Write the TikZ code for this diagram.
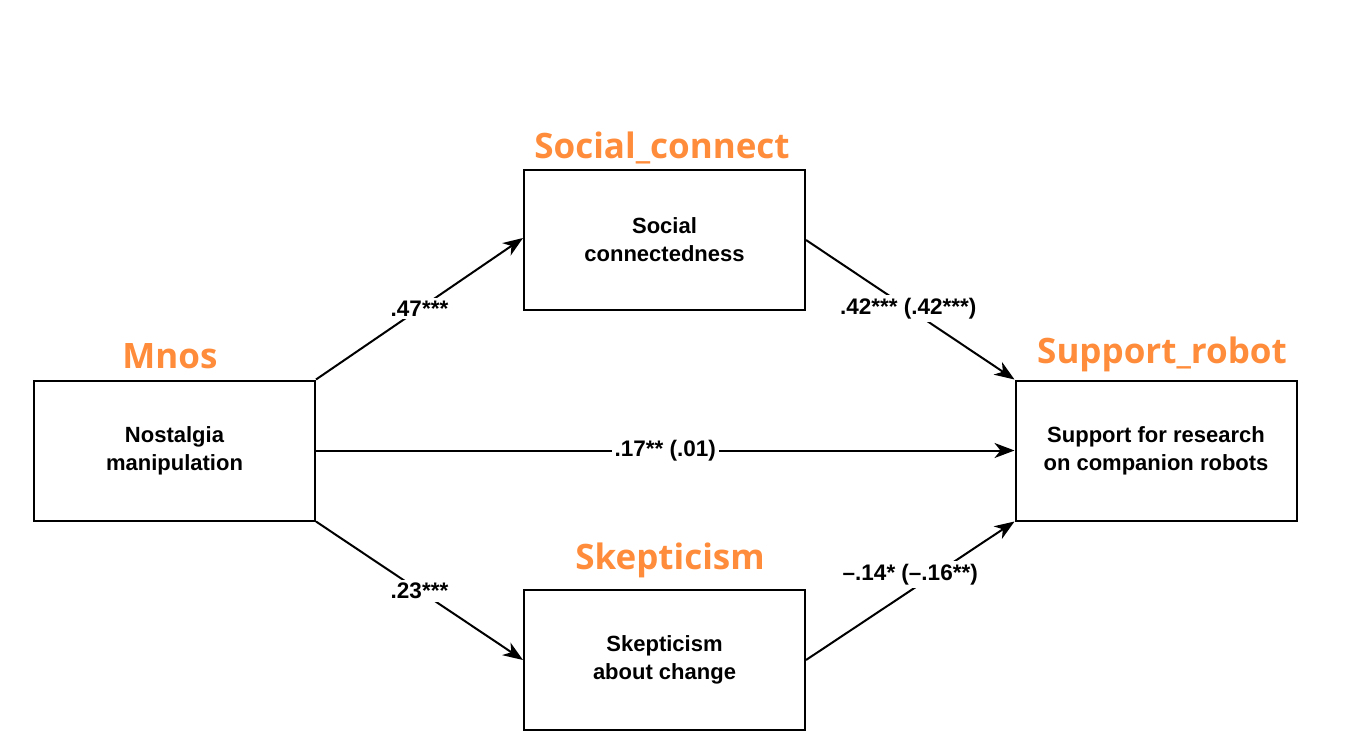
\documentclass[tikz,border=0pt]{standalone}
\usepackage{fontspec}
\setmainfont{Liberation Sans}
\newfontfamily\orangefont{Open Sans}
\usetikzlibrary{arrows.meta}
\definecolor{orng}{RGB}{255,140,58}
\begin{document}
\begin{tikzpicture}[x=1pt,y=-1pt,
  box/.style={draw=black,line width=2pt,minimum width=281pt,minimum height=140pt,align=center,font=\fontsize{22}{28}\selectfont\bfseries},
  tag/.style={text=orng,font=\orangefont\fontsize{35}{38}\selectfont\bfseries,inner sep=0pt},
  lbl/.style={fill=white,inner sep=3pt,font=\fontsize{22.5}{24}\selectfont\bfseries},
  conn/.style={line width=2pt,-{Stealth[length=20pt,width=15pt,inset=6pt]}}]
\useasboundingbox (0,0) rectangle (1362,747);
\node[box] (mnos) at (174.5,450.5) {Nostalgia\\manipulation};
\node[box] (soc) at (664.5,240) {Social\\connectedness};
\node[box] (sup) at (1156,450.5) {Support for research\\on companion robots};
\node[box] (skep) at (664.5,660) {Skepticism\\about change};
\node[tag] (tmnos) at (170,356) {Mnos};
\node[tag] (tsoc) at (662,148) {Social\_connect};
\node[tag] (tsup) at (1162,354) {Support\_robot};
\node[tag] (tskep) at (670,560) {Skepticism};
\draw[conn] (mnos.north east) -- node[lbl,pos=0.5] {.47***} ([yshift=2pt]soc.west);
\draw[conn] (soc.east) -- node[lbl,pos=0.49] {.42*** (.42***)} (sup.north west);
\draw[conn] (mnos.east) -- node[lbl,pos=0.5] {.17** (.01)} (sup.west);
\draw[conn] (mnos.south east) -- node[lbl,pos=0.5] {.23***} (skep.west);
\draw[conn] (skep.east) -- node[lbl,pos=0.5,yshift=16pt] {–.14* (–.16**)} (sup.south west);
\end{tikzpicture}
\end{document}
